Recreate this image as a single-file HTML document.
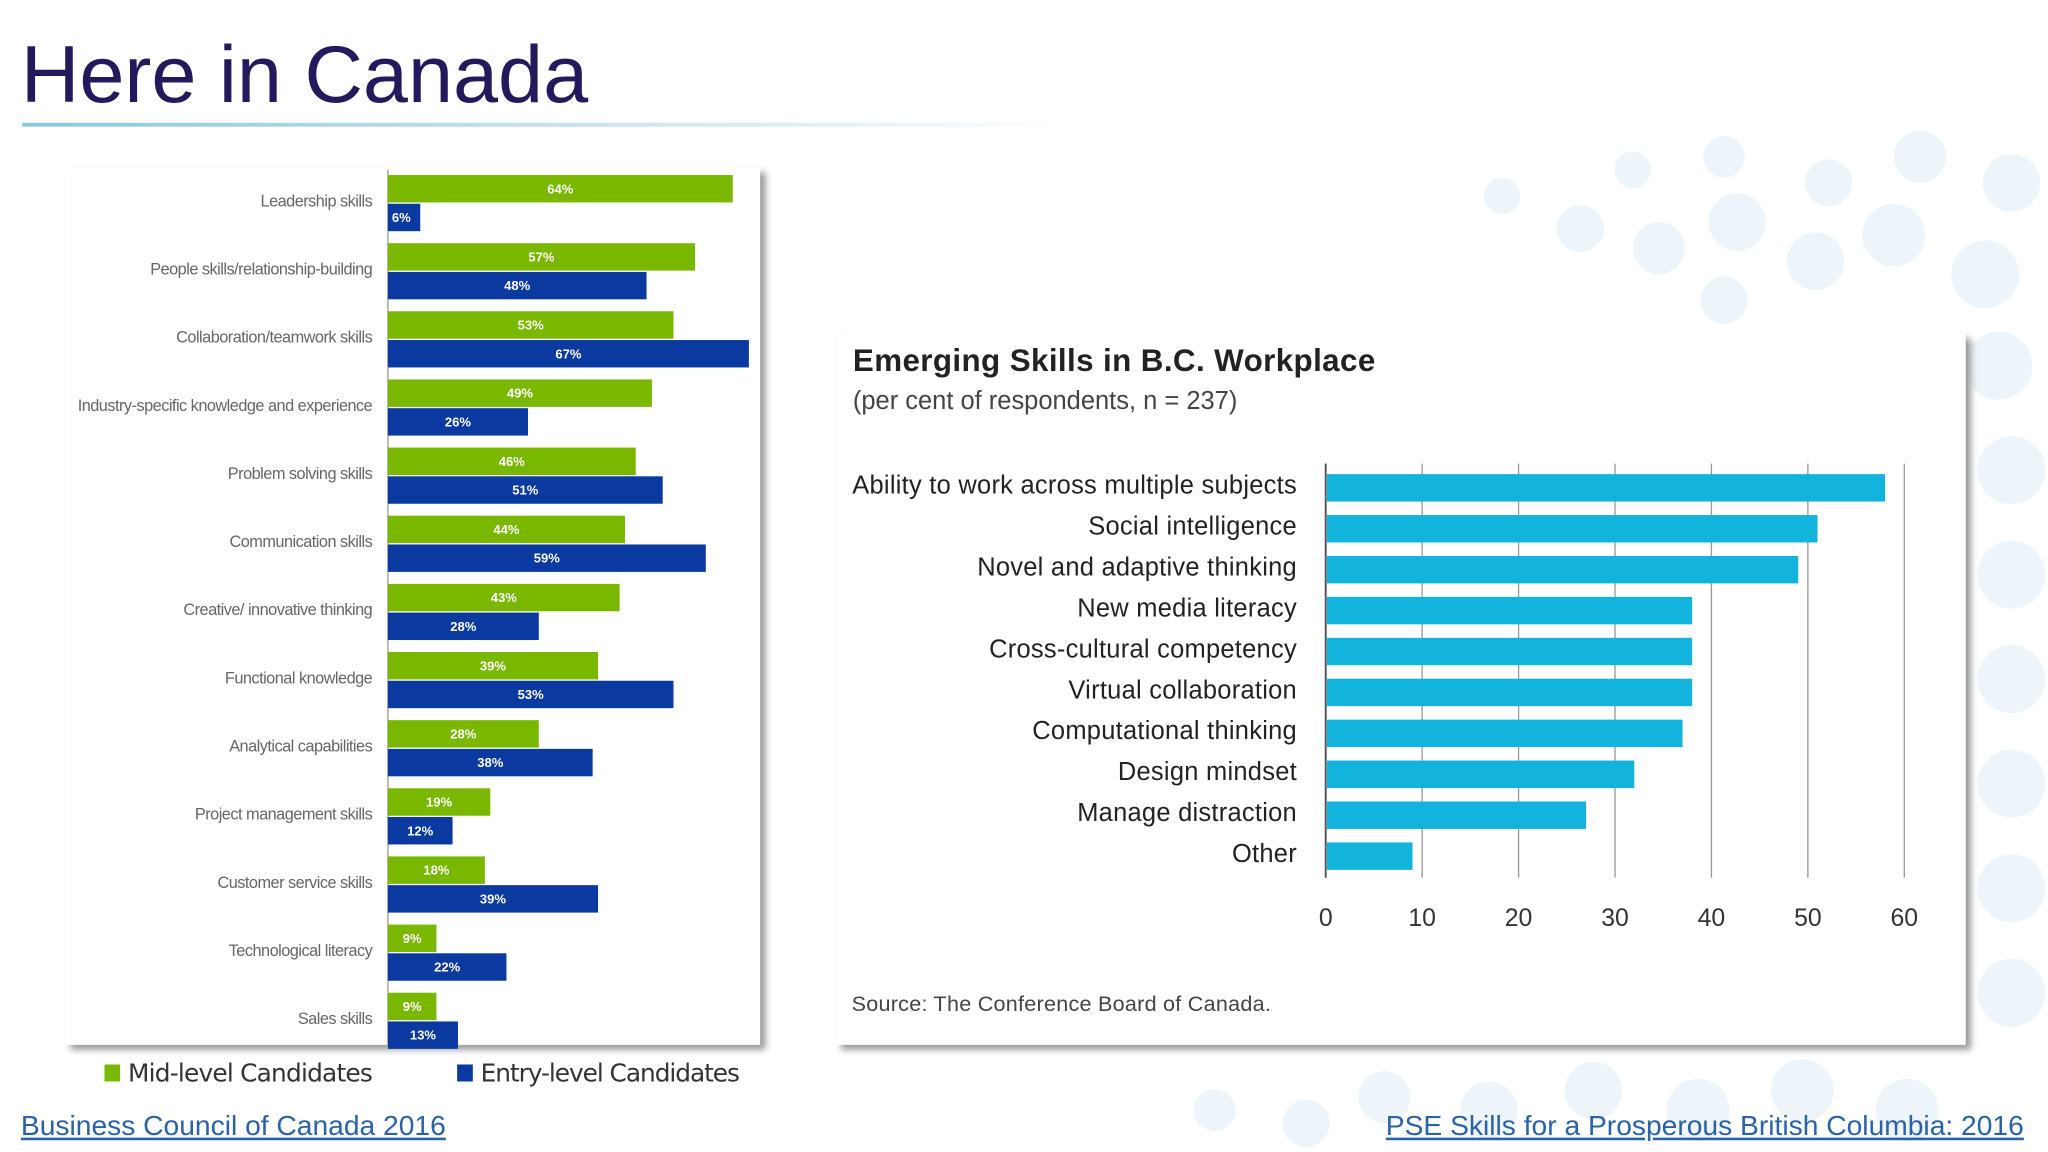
<!DOCTYPE html>
<html><head><meta charset="utf-8"><style>
html,body{margin:0;padding:0;background:#fff;overflow:hidden}
#wrap{position:absolute;left:0;top:0;width:1568px;height:882px;transform:scale(1.306122);transform-origin:0 0;font-family:"Liberation Sans",sans-serif}
.abs{position:absolute}
</style></head><body>
<div id="wrap">
<svg class="abs" style="left:0;top:0" width="1568" height="882">
<g fill="#eef5fa">
<circle cx="1150" cy="150" r="14"/><circle cx="1210" cy="175" r="18"/><circle cx="1270" cy="190" r="20"/><circle cx="1330" cy="170" r="22"/><circle cx="1390" cy="200" r="22"/><circle cx="1450" cy="180" r="24"/><circle cx="1520" cy="210" r="26"/>
<circle cx="1250" cy="130" r="14"/><circle cx="1320" cy="120" r="16"/><circle cx="1400" cy="140" r="18"/><circle cx="1470" cy="120" r="20"/><circle cx="1540" cy="140" r="22"/>
<circle cx="1320" cy="230" r="18"/><circle cx="1530" cy="280" r="26"/><circle cx="1540" cy="360" r="26"/><circle cx="1540" cy="440" r="26"/><circle cx="1540" cy="520" r="26"/><circle cx="1540" cy="600" r="26"/><circle cx="1540" cy="680" r="26"/><circle cx="1540" cy="760" r="26"/>
<circle cx="1060" cy="840" r="20"/><circle cx="1140" cy="850" r="22"/><circle cx="1220" cy="835" r="22"/><circle cx="1300" cy="850" r="24"/><circle cx="1380" cy="835" r="24"/><circle cx="1460" cy="850" r="24"/><circle cx="1000" cy="860" r="18"/><circle cx="930" cy="850" r="16"/>
</g></svg>
<div class="abs" style="left:16px;top:22px;font-size:62px;color:#221a5c;font-family:'Liberation Sans',sans-serif">Here in Canada</div>
<div class="abs" style="left:17px;top:94px;width:800px;height:3px;background:linear-gradient(to right,#8cc6dc,#d8ecf4 70%,rgba(255,255,255,0))"></div>

<div class="abs" style="left:50px;top:128px;width:532px;height:672px;background:#fff;box-shadow:4px 4px 5px #999"></div>
<svg class="abs" id="left" style="left:0;top:0" width="640" height="882"></svg>
<div class="abs" style="left:80px;top:811px;font-size:19px;color:#333;font-family:'DejaVu Sans',sans-serif;letter-spacing:-0.6px"><span style="display:inline-block;width:12px;height:13px;background:#7ab800;margin-right:6px"></span>Mid-level Candidates</div>
<div class="abs" style="left:350px;top:811px;font-size:19px;color:#333;font-family:'DejaVu Sans',sans-serif;letter-spacing:-0.8px"><span style="display:inline-block;width:12px;height:13px;background:#0a39a0;margin-right:6px"></span>Entry-level Candidates</div>

<div class="abs" style="left:640px;top:255px;width:865px;height:545px;background:#fff;box-shadow:4px 4px 5px #999"></div>
<div class="abs" style="left:653px;top:263px;font-size:24px;font-weight:bold;color:#222;letter-spacing:0.3px">Emerging Skills in B.C. Workplace</div>
<div class="abs" style="left:653px;top:296px;font-size:19.5px;color:#444">(per cent of respondents, n = 237)</div>
<svg class="abs" id="right" style="left:0;top:0" width="1568" height="882"></svg>
<div class="abs" style="left:652px;top:760px;font-size:16.5px;color:#444;letter-spacing:0.2px">Source: The Conference Board of Canada.</div>

<a class="abs" style="left:16px;top:849px;font-size:21.6px;color:#2a62a8;text-decoration:underline">Business Council of Canada 2016</a>
<a class="abs" style="left:1061px;top:849px;font-size:21.6px;color:#2a62a8;text-decoration:underline">PSE Skills for a Prosperous British Columbia: 2016</a>
</div>
<script>
const leftCats=["Leadership skills","People skills/relationship-building","Collaboration/teamwork skills","Industry-specific knowledge and experience","Problem solving skills","Communication skills","Creative/ innovative thinking","Functional knowledge","Analytical capabilities","Project management skills","Customer service skills","Technological literacy","Sales skills"];
const midVals=[64,57,53,49,46,44,43,39,28,19,18,9,9];
const entryVals=[6,48,67,26,51,59,28,53,38,12,39,22,13];
const rightCats=["Ability to work across multiple subjects","Social intelligence","Novel and adaptive thinking","New media literacy","Cross-cultural competency","Virtual collaboration","Computational thinking","Design mindset","Manage distraction","Other"];
const rightVals=[58,51,49,38,38,38,37,32,27,9];
const rightTicks=[0,10,20,30,40,50,60];
const NS="http://www.w3.org/2000/svg";
function mk(p,t,a){const e=document.createElementNS(NS,t);for(const k in a)e.setAttribute(k,a[k]);p.appendChild(e);return e;}
const L=document.getElementById('left');
const lx=v=>297+v*4.125, ly=i=>134+i*52.17;
mk(L,'line',{x1:297,y1:130,x2:297,y2:800,stroke:'#999','stroke-width':1});
leftCats.forEach((c,i)=>{
 const y=ly(i);
 const t=mk(L,'text',{x:285,y:y+24,'text-anchor':'end','font-size':12.5,fill:'#666','font-family':'Liberation Sans Narrow, Liberation Sans, sans-serif','letter-spacing':'-0.4'});t.textContent=c;
 
 
 const g=mk(L,'rect',{x:297,y:y,width:lx(midVals[i])-297,height:21,fill:'#7ab800'});
 
 
 const gt=mk(L,'text',{x:(297+lx(midVals[i]))/2,y:y+14,'text-anchor':'middle','font-size':10,fill:'#fff','font-weight':'bold'});gt.textContent=midVals[i]+'%';
 
 
 const b=mk(L,'rect',{x:297,y:y+22,width:lx(entryVals[i])-297,height:21,fill:'#0a39a0'});
 
 
 const bt=mk(L,'text',{x:entryVals[i]<10?300:(297+lx(entryVals[i]))/2,y:y+36,'text-anchor':entryVals[i]<10?'start':'middle','font-size':10,fill:'#fff','font-weight':'bold'});bt.textContent=entryVals[i]+'%';
 
 
});
const R=document.getElementById('right');
const rx=v=>1015+v*7.383, ry=i=>363+i*31.33;
rightTicks.forEach(t=>{
 const l=mk(R,'line',{x1:rx(t),y1:355,x2:rx(t),y2:672,stroke:t===0?'#555':'#999','stroke-width':t===0?1.5:1});
 
 
 const tx=mk(R,'text',{x:rx(t),y:709,'text-anchor':'middle','font-size':19,fill:'#333'});tx.textContent=t;
 
 
});
rightCats.forEach((c,i)=>{
 const y=ry(i);
 const r=mk(R,'rect',{x:1016,y:y,width:rx(rightVals[i])-1016,height:21,fill:'#12b3dc'});
 
 
 const t=mk(R,'text',{x:993,y:y+15,'text-anchor':'end','font-size':19.5,fill:'#222','letter-spacing':'0.2'});t.textContent=c;
 
 
});
</script>
</body></html>
